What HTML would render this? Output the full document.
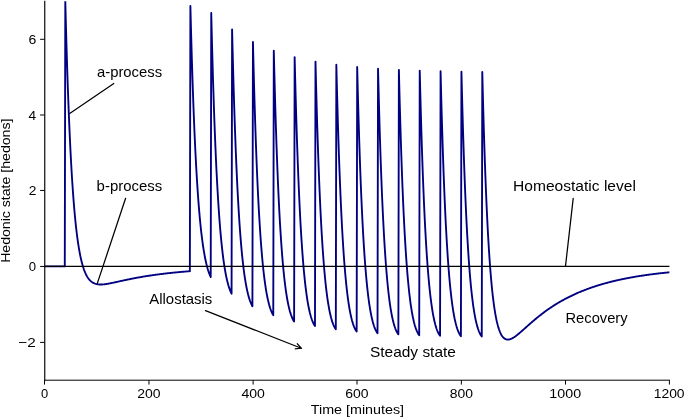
<!DOCTYPE html>
<html><head><meta charset="utf-8"><title>Opponent process</title>
<style>html,body{margin:0;padding:0;background:#fff;overflow:hidden;}svg{display:block;will-change:transform;}</style>
</head><body>
<svg width="685" height="417" viewBox="0 0 685 417">
<rect width="685" height="417" fill="#fff"/>
<defs><clipPath id="ax"><rect x="44.45" y="1.31" width="624.95" height="378.7"/></clipPath></defs>
<path d="M44.45 266.4 L44.97 266.4 L45.49 266.4 L46.01 266.4 L46.53 266.4 L47.06 266.4 L47.58 266.4 L48.1 266.4 L48.62 266.4 L49.14 266.4 L49.66 266.4 L50.18 266.4 L50.7 266.4 L51.23 266.4 L51.75 266.4 L52.27 266.4 L52.79 266.4 L53.31 266.4 L53.83 266.4 L54.35 266.4 L54.87 266.4 L55.4 266.4 L55.92 266.4 L56.44 266.4 L56.96 266.4 L57.48 266.4 L58 266.4 L58.52 266.4 L59.04 266.4 L59.57 266.4 L60.09 266.4 L60.61 266.4 L61.13 266.4 L61.65 266.4 L62.17 266.4 L62.69 266.4 L63.21 266.4 L63.74 266.4 L64.26 266.4 L64.78 266.4 L65.3 1.22 L65.82 21.55 L66.34 40.47 L66.86 58.07 L67.38 74.46 L67.91 89.7 L68.43 103.89 L68.95 117.09 L69.47 129.36 L69.99 140.79 L70.51 151.41 L71.03 161.29 L71.55 170.47 L72.07 179.02 L72.6 186.96 L73.12 194.34 L73.64 201.2 L74.16 207.57 L74.68 213.49 L75.2 219 L75.72 224.1 L76.24 228.85 L76.77 233.25 L77.29 237.34 L77.81 241.13 L78.33 244.65 L78.85 247.91 L79.37 250.94 L79.89 253.74 L80.41 256.34 L80.94 258.74 L81.46 260.97 L81.98 263.02 L82.5 264.93 L83.02 266.69 L83.54 268.31 L84.06 269.81 L84.58 271.19 L85.11 272.47 L85.63 273.64 L86.15 274.72 L86.67 275.72 L87.19 276.63 L87.71 277.47 L88.23 278.23 L88.75 278.93 L89.28 279.57 L89.8 280.16 L90.32 280.69 L90.84 281.17 L91.36 281.61 L91.88 282 L92.4 282.36 L92.92 282.68 L93.45 282.96 L93.97 283.22 L94.49 283.44 L95.01 283.64 L95.53 283.81 L96.05 283.96 L96.57 284.09 L97.09 284.2 L97.62 284.29 L98.14 284.36 L98.66 284.42 L99.18 284.46 L99.7 284.49 L100.22 284.5 L100.74 284.5 L101.26 284.5 L101.78 284.48 L102.31 284.45 L102.83 284.42 L103.35 284.38 L103.87 284.33 L104.39 284.27 L104.91 284.21 L105.43 284.14 L105.95 284.07 L106.48 283.99 L107 283.91 L107.52 283.82 L108.04 283.73 L108.56 283.64 L109.08 283.54 L109.6 283.44 L110.12 283.34 L110.65 283.24 L111.17 283.14 L111.69 283.03 L112.21 282.92 L112.73 282.81 L113.25 282.7 L113.77 282.59 L114.29 282.48 L114.82 282.36 L115.34 282.25 L115.86 282.14 L116.38 282.02 L116.9 281.91 L117.42 281.79 L117.94 281.68 L118.46 281.56 L118.99 281.44 L119.51 281.33 L120.03 281.21 L120.55 281.1 L121.07 280.98 L121.59 280.87 L122.11 280.75 L122.63 280.64 L123.16 280.53 L123.68 280.41 L124.2 280.3 L124.72 280.19 L125.24 280.08 L125.76 279.97 L126.28 279.86 L126.8 279.75 L127.32 279.64 L127.85 279.53 L128.37 279.42 L128.89 279.32 L129.41 279.21 L129.93 279.1 L130.45 279 L130.97 278.89 L131.49 278.79 L132.02 278.69 L132.54 278.59 L133.06 278.48 L133.58 278.38 L134.1 278.28 L134.62 278.18 L135.14 278.09 L135.66 277.99 L136.19 277.89 L136.71 277.79 L137.23 277.7 L137.75 277.6 L138.27 277.51 L138.79 277.42 L139.31 277.32 L139.83 277.23 L140.36 277.14 L140.88 277.05 L141.4 276.96 L141.92 276.87 L142.44 276.78 L142.96 276.69 L143.48 276.61 L144 276.52 L144.53 276.44 L145.05 276.35 L145.57 276.27 L146.09 276.18 L146.61 276.1 L147.13 276.02 L147.65 275.94 L148.17 275.86 L148.7 275.78 L149.22 275.7 L149.74 275.62 L150.26 275.54 L150.78 275.46 L151.3 275.39 L151.82 275.31 L152.34 275.23 L152.87 275.16 L153.39 275.09 L153.91 275.01 L154.43 274.94 L154.95 274.87 L155.47 274.79 L155.99 274.72 L156.51 274.65 L157.03 274.58 L157.56 274.51 L158.08 274.44 L158.6 274.38 L159.12 274.31 L159.64 274.24 L160.16 274.18 L160.68 274.11 L161.2 274.04 L161.73 273.98 L162.25 273.91 L162.77 273.85 L163.29 273.79 L163.81 273.73 L164.33 273.66 L164.85 273.6 L165.37 273.54 L165.9 273.48 L166.42 273.42 L166.94 273.36 L167.46 273.3 L167.98 273.24 L168.5 273.18 L169.02 273.13 L169.54 273.07 L170.07 273.01 L170.59 272.96 L171.11 272.9 L171.63 272.85 L172.15 272.79 L172.67 272.74 L173.19 272.68 L173.71 272.63 L174.24 272.58 L174.76 272.52 L175.28 272.47 L175.8 272.42 L176.32 272.37 L176.84 272.32 L177.36 272.27 L177.88 272.22 L178.41 272.17 L178.93 272.12 L179.45 272.07 L179.97 272.02 L180.49 271.98 L181.01 271.93 L181.53 271.88 L182.05 271.84 L182.57 271.79 L183.1 271.74 L183.62 271.7 L184.14 271.65 L184.66 271.61 L185.18 271.56 L185.7 271.52 L186.22 271.48 L186.74 271.43 L187.27 271.39 L187.79 271.35 L188.31 271.31 L188.83 271.27 L189.35 271.22 L189.87 271.18 L190.39 5.97 L190.91 26.25 L191.44 45.13 L191.96 62.7 L192.48 79.04 L193 94.25 L193.52 108.4 L194.04 121.56 L194.56 133.79 L195.08 145.18 L195.61 155.76 L196.13 165.61 L196.65 174.76 L197.17 183.26 L197.69 191.17 L198.21 198.51 L198.73 205.34 L199.25 211.67 L199.78 217.56 L200.3 223.03 L200.82 228.1 L201.34 232.81 L201.86 237.19 L202.38 241.24 L202.9 245 L203.42 248.48 L203.95 251.71 L204.47 254.71 L204.99 257.48 L205.51 260.04 L206.03 262.41 L206.55 264.61 L207.07 266.63 L207.59 268.51 L208.11 270.24 L208.64 271.83 L209.16 273.3 L209.68 274.65 L210.2 275.9 L210.72 277.04 L211.24 12.92 L211.76 34.21 L212.28 54.01 L212.81 72.43 L213.33 89.55 L213.85 105.47 L214.37 120.27 L214.89 134.02 L215.41 146.8 L215.93 158.68 L216.45 169.71 L216.98 179.96 L217.5 189.48 L218.02 198.31 L218.54 206.51 L219.06 214.12 L219.58 221.18 L220.1 227.73 L220.62 233.8 L221.15 239.43 L221.67 244.64 L222.19 249.47 L222.71 253.94 L223.23 258.07 L223.75 261.9 L224.27 265.43 L224.79 268.7 L225.32 271.72 L225.84 274.5 L226.36 277.07 L226.88 279.43 L227.4 281.61 L227.92 283.61 L228.44 285.45 L228.96 287.14 L229.49 288.68 L230.01 290.1 L230.53 291.39 L231.05 292.57 L231.57 293.65 L232.09 29.45 L232.61 50.67 L233.13 70.39 L233.66 88.72 L234.18 105.75 L234.7 121.58 L235.22 136.28 L235.74 149.94 L236.26 162.63 L236.78 174.41 L237.3 185.34 L237.82 195.48 L238.35 204.9 L238.87 213.63 L239.39 221.72 L239.91 229.23 L240.43 236.18 L240.95 242.62 L241.47 248.59 L241.99 254.1 L242.52 259.21 L243.04 263.93 L243.56 268.29 L244.08 272.32 L244.6 276.03 L245.12 279.46 L245.64 282.62 L246.16 285.53 L246.69 288.2 L247.21 290.66 L247.73 292.92 L248.25 294.99 L248.77 296.88 L249.29 298.62 L249.81 300.2 L250.33 301.64 L250.86 302.95 L251.38 304.14 L251.9 305.22 L252.42 306.19 L252.94 41.89 L253.46 63 L253.98 82.62 L254.5 100.85 L255.03 117.78 L255.55 133.51 L256.07 148.12 L256.59 161.68 L257.11 174.27 L257.63 185.95 L258.15 196.79 L258.67 206.84 L259.2 216.16 L259.72 224.79 L260.24 232.79 L260.76 240.21 L261.28 247.07 L261.8 253.42 L262.32 259.29 L262.84 264.72 L263.36 269.73 L263.89 274.36 L264.41 278.64 L264.93 282.58 L265.45 286.21 L265.97 289.55 L266.49 292.62 L267.01 295.45 L267.53 298.04 L268.06 300.41 L268.58 302.59 L269.1 304.58 L269.62 306.39 L270.14 308.04 L270.66 309.55 L271.18 310.91 L271.7 312.14 L272.23 313.25 L272.75 314.25 L273.27 315.15 L273.79 50.77 L274.31 71.81 L274.83 91.35 L275.35 109.51 L275.87 126.37 L276.4 142.03 L276.92 156.56 L277.44 170.05 L277.96 182.57 L278.48 194.18 L279 204.95 L279.52 214.93 L280.04 224.18 L280.57 232.75 L281.09 240.68 L281.61 248.03 L282.13 254.82 L282.65 261.1 L283.17 266.91 L283.69 272.28 L284.21 277.23 L284.74 281.79 L285.26 286 L285.78 289.88 L286.3 293.45 L286.82 296.73 L287.34 299.74 L287.86 302.51 L288.38 305.04 L288.91 307.36 L289.43 309.47 L289.95 311.4 L290.47 313.16 L290.99 314.75 L291.51 316.2 L292.03 317.5 L292.55 318.68 L293.07 319.74 L293.6 320.68 L294.12 321.52 L294.64 57.09 L295.16 78.08 L295.68 97.57 L296.2 115.67 L296.72 132.48 L297.24 148.08 L297.77 162.57 L298.29 176.01 L298.81 188.47 L299.33 200.03 L299.85 210.75 L300.37 220.68 L300.89 229.88 L301.41 238.4 L301.94 246.29 L302.46 253.59 L302.98 260.33 L303.5 266.57 L304.02 272.33 L304.54 277.65 L305.06 282.56 L305.58 287.08 L306.11 291.24 L306.63 295.08 L307.15 298.6 L307.67 301.84 L308.19 304.81 L308.71 307.53 L309.23 310.02 L309.75 312.29 L310.28 314.36 L310.8 316.25 L311.32 317.97 L311.84 319.52 L312.36 320.93 L312.88 322.19 L313.4 323.33 L313.92 324.35 L314.45 325.25 L314.97 326.06 L315.49 61.59 L316.01 82.53 L316.53 101.98 L317.05 120.05 L317.57 136.82 L318.09 152.39 L318.61 166.84 L319.14 180.24 L319.66 192.67 L320.18 204.19 L320.7 214.88 L321.22 224.77 L321.74 233.94 L322.26 242.43 L322.78 250.28 L323.31 257.54 L323.83 264.26 L324.35 270.46 L324.87 276.19 L325.39 281.47 L325.91 286.35 L326.43 290.84 L326.95 294.97 L327.48 298.77 L328 302.26 L328.52 305.47 L329.04 308.41 L329.56 311.1 L330.08 313.56 L330.6 315.8 L331.12 317.84 L331.65 319.7 L332.17 321.39 L332.69 322.91 L333.21 324.29 L333.73 325.53 L334.25 326.64 L334.77 327.63 L335.29 328.5 L335.82 329.28 L336.34 64.78 L336.86 85.7 L337.38 105.13 L337.9 123.16 L338.42 139.91 L338.94 155.45 L339.46 169.87 L339.99 183.25 L340.51 195.65 L341.03 207.15 L341.55 217.81 L342.07 227.68 L342.59 236.82 L343.11 245.29 L343.63 253.11 L344.15 260.35 L344.68 267.04 L345.2 273.22 L345.72 278.93 L346.24 284.19 L346.76 289.04 L347.28 293.51 L347.8 297.62 L348.32 301.4 L348.85 304.87 L349.37 308.05 L349.89 310.97 L350.41 313.64 L350.93 316.07 L351.45 318.3 L351.97 320.32 L352.49 322.16 L353.02 323.82 L353.54 325.33 L354.06 326.68 L354.58 327.9 L355.1 328.99 L355.62 329.96 L356.14 330.81 L356.66 331.57 L357.19 67.06 L357.71 87.95 L358.23 107.36 L358.75 125.38 L359.27 142.11 L359.79 157.63 L360.31 172.03 L360.83 185.39 L361.36 197.78 L361.88 209.26 L362.4 219.9 L362.92 229.75 L363.44 238.87 L363.96 247.32 L364.48 255.13 L365 262.35 L365.53 269.03 L366.05 275.19 L366.57 280.88 L367.09 286.12 L367.61 290.96 L368.13 295.41 L368.65 299.5 L369.17 303.26 L369.7 306.72 L370.22 309.89 L370.74 312.79 L371.26 315.44 L371.78 317.86 L372.3 320.07 L372.82 322.08 L373.34 323.9 L373.86 325.55 L374.39 327.04 L374.91 328.38 L375.43 329.58 L375.95 330.66 L376.47 331.61 L376.99 332.46 L377.51 333.2 L378.03 68.67 L378.56 89.55 L379.08 108.95 L379.6 126.95 L380.12 143.67 L380.64 159.18 L381.16 173.57 L381.68 186.91 L382.2 199.28 L382.73 210.75 L383.25 221.38 L383.77 231.22 L384.29 240.33 L384.81 248.77 L385.33 256.56 L385.85 263.77 L386.37 270.44 L386.9 276.59 L387.42 282.26 L387.94 287.5 L388.46 292.32 L388.98 296.76 L389.5 300.84 L390.02 304.59 L390.54 308.04 L391.07 311.19 L391.59 314.08 L392.11 316.72 L392.63 319.14 L393.15 321.33 L393.67 323.33 L394.19 325.14 L394.71 326.78 L395.24 328.26 L395.76 329.59 L396.28 330.78 L396.8 331.85 L397.32 332.79 L397.84 333.63 L398.36 334.36 L398.88 69.82 L399.4 90.69 L399.93 110.08 L400.45 128.07 L400.97 144.78 L401.49 160.28 L402.01 174.66 L402.53 187.99 L403.05 200.36 L403.57 211.82 L404.1 222.43 L404.62 232.27 L405.14 241.37 L405.66 249.79 L406.18 257.58 L406.7 264.78 L407.22 271.44 L407.74 277.58 L408.27 283.25 L408.79 288.47 L409.31 293.29 L409.83 297.72 L410.35 301.79 L410.87 305.54 L411.39 308.97 L411.91 312.12 L412.44 315 L412.96 317.64 L413.48 320.04 L414 322.23 L414.52 324.22 L415.04 326.02 L415.56 327.65 L416.08 329.13 L416.61 330.45 L417.13 331.64 L417.65 332.69 L418.17 333.63 L418.69 334.46 L419.21 335.18 L419.73 70.64 L420.25 91.5 L420.78 110.88 L421.3 128.87 L421.82 145.57 L422.34 161.06 L422.86 175.43 L423.38 188.76 L423.9 201.12 L424.42 212.57 L424.94 223.18 L425.47 233.01 L425.99 242.11 L426.51 250.52 L427.03 258.31 L427.55 265.5 L428.07 272.15 L428.59 278.29 L429.11 283.95 L429.64 289.17 L430.16 293.98 L430.68 298.4 L431.2 302.47 L431.72 306.21 L432.24 309.64 L432.76 312.78 L433.28 315.66 L433.81 318.29 L434.33 320.68 L434.85 322.87 L435.37 324.85 L435.89 326.65 L436.41 328.28 L436.93 329.74 L437.45 331.06 L437.98 332.24 L438.5 333.29 L439.02 334.23 L439.54 335.05 L440.06 335.77 L440.58 71.22 L441.1 92.08 L441.62 111.45 L442.15 129.44 L442.67 146.13 L443.19 161.62 L443.71 175.99 L444.23 189.31 L444.75 201.66 L445.27 213.11 L445.79 223.72 L446.32 233.54 L446.84 242.63 L447.36 251.04 L447.88 258.82 L448.4 266.01 L448.92 272.66 L449.44 278.79 L449.96 284.45 L450.49 289.66 L451.01 294.47 L451.53 298.89 L452.05 302.95 L452.57 306.69 L453.09 310.11 L453.61 313.25 L454.13 316.12 L454.65 318.75 L455.18 321.14 L455.7 323.32 L456.22 325.3 L456.74 327.1 L457.26 328.72 L457.78 330.18 L458.3 331.5 L458.82 332.67 L459.35 333.72 L459.87 334.65 L460.39 335.47 L460.91 336.18 L461.43 71.63 L461.95 92.49 L462.47 111.86 L462.99 129.84 L463.52 146.53 L464.04 162.01 L464.56 176.38 L465.08 189.7 L465.6 202.05 L466.12 213.49 L466.64 224.1 L467.16 233.92 L467.69 243.01 L468.21 251.41 L468.73 259.19 L469.25 266.38 L469.77 273.02 L470.29 279.15 L470.81 284.8 L471.33 290.01 L471.86 294.81 L472.38 299.23 L472.9 303.29 L473.42 307.02 L473.94 310.45 L474.46 313.58 L474.98 316.45 L475.5 319.08 L476.03 321.47 L476.55 323.64 L477.07 325.62 L477.59 327.41 L478.11 329.03 L478.63 330.49 L479.15 331.81 L479.67 332.98 L480.19 334.02 L480.72 334.95 L481.24 335.77 L481.76 336.48 L482.28 71.92 L482.8 92.78 L483.32 112.15 L483.84 130.12 L484.36 146.81 L484.89 162.29 L485.41 176.66 L485.93 189.98 L486.45 202.32 L486.97 213.77 L487.49 224.37 L488.01 234.18 L488.53 243.27 L489.06 251.68 L489.58 259.45 L490.1 266.64 L490.62 273.27 L491.14 279.4 L491.66 285.05 L492.18 290.26 L492.7 295.06 L493.23 299.48 L493.75 303.54 L494.27 307.27 L494.79 310.69 L495.31 313.82 L495.83 316.69 L496.35 319.31 L496.87 321.7 L497.4 323.87 L497.92 325.85 L498.44 327.64 L498.96 329.26 L499.48 330.72 L500 332.02 L500.52 333.2 L501.04 334.24 L501.57 335.17 L502.09 335.98 L502.61 336.69 L503.13 337.31 L503.65 337.84 L504.17 338.28 L504.69 338.65 L505.21 338.95 L505.74 339.19 L506.26 339.37 L506.78 339.49 L507.3 339.55 L507.82 339.57 L508.34 339.55 L508.86 339.49 L509.38 339.39 L509.9 339.25 L510.43 339.08 L510.95 338.88 L511.47 338.66 L511.99 338.41 L512.51 338.14 L513.03 337.84 L513.55 337.53 L514.07 337.2 L514.6 336.86 L515.12 336.5 L515.64 336.12 L516.16 335.74 L516.68 335.34 L517.2 334.94 L517.72 334.52 L518.24 334.1 L518.77 333.67 L519.29 333.23 L519.81 332.79 L520.33 332.35 L520.85 331.9 L521.37 331.44 L521.89 330.98 L522.41 330.52 L522.94 330.06 L523.46 329.6 L523.98 329.13 L524.5 328.67 L525.02 328.2 L525.54 327.73 L526.06 327.27 L526.58 326.8 L527.11 326.33 L527.63 325.87 L528.15 325.4 L528.67 324.94 L529.19 324.48 L529.71 324.02 L530.23 323.56 L530.75 323.1 L531.28 322.65 L531.8 322.2 L532.32 321.75 L532.84 321.3 L533.36 320.85 L533.88 320.41 L534.4 319.97 L534.92 319.53 L535.44 319.09 L535.97 318.66 L536.49 318.23 L537.01 317.8 L537.53 317.38 L538.05 316.95 L538.57 316.53 L539.09 316.12 L539.61 315.7 L540.14 315.29 L540.66 314.89 L541.18 314.48 L541.7 314.08 L542.22 313.68 L542.74 313.29 L543.26 312.89 L543.78 312.5 L544.31 312.12 L544.83 311.73 L545.35 311.35 L545.87 310.97 L546.39 310.6 L546.91 310.23 L547.43 309.86 L547.95 309.49 L548.48 309.13 L549 308.77 L549.52 308.41 L550.04 308.06 L550.56 307.7 L551.08 307.36 L551.6 307.01 L552.12 306.67 L552.65 306.33 L553.17 305.99 L553.69 305.65 L554.21 305.32 L554.73 304.99 L555.25 304.67 L555.77 304.34 L556.29 304.02 L556.82 303.7 L557.34 303.39 L557.86 303.07 L558.38 302.76 L558.9 302.45 L559.42 302.15 L559.94 301.85 L560.46 301.55 L560.98 301.25 L561.51 300.95 L562.03 300.66 L562.55 300.37 L563.07 300.08 L563.59 299.8 L564.11 299.51 L564.63 299.23 L565.15 298.95 L565.68 298.68 L566.2 298.4 L566.72 298.13 L567.24 297.86 L567.76 297.6 L568.28 297.33 L568.8 297.07 L569.32 296.81 L569.85 296.55 L570.37 296.29 L570.89 296.04 L571.41 295.79 L571.93 295.54 L572.45 295.29 L572.97 295.05 L573.49 294.8 L574.02 294.56 L574.54 294.32 L575.06 294.09 L575.58 293.85 L576.1 293.62 L576.62 293.39 L577.14 293.16 L577.66 292.93 L578.19 292.71 L578.71 292.48 L579.23 292.26 L579.75 292.04 L580.27 291.83 L580.79 291.61 L581.31 291.4 L581.83 291.18 L582.36 290.97 L582.88 290.76 L583.4 290.56 L583.92 290.35 L584.44 290.15 L584.96 289.95 L585.48 289.75 L586 289.55 L586.53 289.35 L587.05 289.16 L587.57 288.97 L588.09 288.77 L588.61 288.58 L589.13 288.4 L589.65 288.21 L590.17 288.02 L590.69 287.84 L591.22 287.66 L591.74 287.48 L592.26 287.3 L592.78 287.12 L593.3 286.95 L593.82 286.77 L594.34 286.6 L594.86 286.43 L595.39 286.26 L595.91 286.09 L596.43 285.92 L596.95 285.76 L597.47 285.59 L597.99 285.43 L598.51 285.27 L599.03 285.11 L599.56 284.95 L600.08 284.79 L600.6 284.63 L601.12 284.48 L601.64 284.33 L602.16 284.17 L602.68 284.02 L603.2 283.87 L603.73 283.72 L604.25 283.58 L604.77 283.43 L605.29 283.29 L605.81 283.14 L606.33 283 L606.85 282.86 L607.37 282.72 L607.9 282.58 L608.42 282.45 L608.94 282.31 L609.46 282.17 L609.98 282.04 L610.5 281.91 L611.02 281.78 L611.54 281.65 L612.07 281.52 L612.59 281.39 L613.11 281.26 L613.63 281.13 L614.15 281.01 L614.67 280.89 L615.19 280.76 L615.71 280.64 L616.23 280.52 L616.76 280.4 L617.28 280.28 L617.8 280.16 L618.32 280.05 L618.84 279.93 L619.36 279.82 L619.88 279.7 L620.4 279.59 L620.93 279.48 L621.45 279.37 L621.97 279.26 L622.49 279.15 L623.01 279.04 L623.53 278.93 L624.05 278.82 L624.57 278.72 L625.1 278.61 L625.62 278.51 L626.14 278.41 L626.66 278.31 L627.18 278.21 L627.7 278.1 L628.22 278.01 L628.74 277.91 L629.27 277.81 L629.79 277.71 L630.31 277.62 L630.83 277.52 L631.35 277.43 L631.87 277.33 L632.39 277.24 L632.91 277.15 L633.44 277.06 L633.96 276.97 L634.48 276.88 L635 276.79 L635.52 276.7 L636.04 276.61 L636.56 276.53 L637.08 276.44 L637.61 276.35 L638.13 276.27 L638.65 276.19 L639.17 276.1 L639.69 276.02 L640.21 275.94 L640.73 275.86 L641.25 275.78 L641.78 275.7 L642.3 275.62 L642.82 275.54 L643.34 275.46 L643.86 275.39 L644.38 275.31 L644.9 275.23 L645.42 275.16 L645.94 275.09 L646.47 275.01 L646.99 274.94 L647.51 274.87 L648.03 274.79 L648.55 274.72 L649.07 274.65 L649.59 274.58 L650.11 274.51 L650.64 274.44 L651.16 274.38 L651.68 274.31 L652.2 274.24 L652.72 274.17 L653.24 274.11 L653.76 274.04 L654.28 273.98 L654.81 273.91 L655.33 273.85 L655.85 273.79 L656.37 273.72 L656.89 273.66 L657.41 273.6 L657.93 273.54 L658.45 273.48 L658.98 273.42 L659.5 273.36 L660.02 273.3 L660.54 273.24 L661.06 273.18 L661.58 273.13 L662.1 273.07 L662.62 273.01 L663.15 272.96 L663.67 272.9 L664.19 272.84 L664.71 272.79 L665.23 272.74 L665.75 272.68 L666.27 272.63 L666.79 272.58 L667.32 272.52 L667.84 272.47 L668.36 272.42 L668.88 272.37 L669.4 272.32" fill="none" stroke="#000080" stroke-width="1.875" stroke-linejoin="round" stroke-linecap="square" clip-path="url(#ax)"/>
<line x1="44.45" y1="266.4" x2="669.4" y2="266.4" stroke="#000" stroke-width="1.25" stroke-linecap="square" clip-path="url(#ax)"/>
<line x1="113.8" y1="83.5" x2="69.7" y2="113.4" stroke="#000" stroke-width="1.25" stroke-linecap="round"/>
<line x1="125.6" y1="198.3" x2="97.3" y2="283.4" stroke="#000" stroke-width="1.25" stroke-linecap="round"/>
<line x1="573.2" y1="198.4" x2="565.5" y2="266.1" stroke="#000" stroke-width="1.25" stroke-linecap="round"/>
<line x1="205.5" y1="310.6" x2="301.25" y2="348.25" stroke="#000" stroke-width="1.25" stroke-linecap="round"/>
<path d="M294.84 348.84 L301.25 348.25 L296.96 343.45" fill="none" stroke="#000" stroke-width="1.25" stroke-linejoin="round" stroke-linecap="butt"/>
<line x1="44.75" y1="1.31" x2="44.75" y2="380.2" stroke="#000" stroke-width="1.15" stroke-linecap="square"/>
<line x1="44.5" y1="380.2" x2="669.4" y2="380.2" stroke="#000" stroke-width="1.0" stroke-linecap="square"/>
<line x1="40.12" y1="342.38" x2="44.5" y2="342.38" stroke="#000" stroke-width="1.0"/>
<line x1="40.12" y1="266.45" x2="44.5" y2="266.45" stroke="#000" stroke-width="1.0"/>
<line x1="40.12" y1="190.45" x2="44.5" y2="190.45" stroke="#000" stroke-width="1.0"/>
<line x1="40.12" y1="115" x2="44.5" y2="115" stroke="#000" stroke-width="1.0"/>
<line x1="40.12" y1="39.3" x2="44.5" y2="39.3" stroke="#000" stroke-width="1.0"/>
<line x1="44.5" y1="380.2" x2="44.5" y2="384.57" stroke="#000" stroke-width="1.0"/>
<line x1="148.97" y1="380.2" x2="148.97" y2="384.57" stroke="#000" stroke-width="1.0"/>
<line x1="253.1" y1="380.2" x2="253.1" y2="384.57" stroke="#000" stroke-width="1.0"/>
<line x1="357" y1="380.2" x2="357" y2="384.57" stroke="#000" stroke-width="1.0"/>
<line x1="461.35" y1="380.2" x2="461.35" y2="384.57" stroke="#000" stroke-width="1.0"/>
<line x1="565.5" y1="380.2" x2="565.5" y2="384.57" stroke="#000" stroke-width="1.0"/>
<line x1="669.4" y1="380.2" x2="669.4" y2="384.57" stroke="#000" stroke-width="1.0"/>
<g font-family="Liberation Sans, sans-serif" fill="#000">
<text x="40.89" y="397.7" font-size="13.1" textLength="7.21" lengthAdjust="spacingAndGlyphs">0</text>
<text x="137.22" y="397.7" font-size="13.1" textLength="23.35" lengthAdjust="spacingAndGlyphs">200</text>
<text x="241.48" y="397.7" font-size="13.1" textLength="23.47" lengthAdjust="spacingAndGlyphs">400</text>
<text x="345.24" y="397.7" font-size="13.1" textLength="23.36" lengthAdjust="spacingAndGlyphs">600</text>
<text x="449.69" y="397.7" font-size="13.1" textLength="23.25" lengthAdjust="spacingAndGlyphs">800</text>
<text x="549.36" y="397.7" font-size="13.1" textLength="31.74" lengthAdjust="spacingAndGlyphs">1000</text>
<text x="653.69" y="397.7" font-size="13.1" textLength="30.9" lengthAdjust="spacingAndGlyphs">1200</text>
<text x="18.25" y="346.74" font-size="13.1" textLength="17.42" lengthAdjust="spacingAndGlyphs">−2</text>
<text x="28.89" y="271" font-size="13.1" textLength="7.33" lengthAdjust="spacingAndGlyphs">0</text>
<text x="28.7" y="195.26" font-size="13.1" textLength="7.69" lengthAdjust="spacingAndGlyphs">2</text>
<text x="28.49" y="119.52" font-size="13.1" textLength="7.62" lengthAdjust="spacingAndGlyphs">4</text>
<text x="28.48" y="43.78" font-size="13.1" textLength="7.83" lengthAdjust="spacingAndGlyphs">6</text>
<text x="310.78" y="414" font-size="13.25" textLength="93.33" lengthAdjust="spacingAndGlyphs">Time [minutes]</text>
<g transform="translate(9.8 0) rotate(-90)"><text x="-262.86" y="0" font-size="13.25" textLength="144.26" lengthAdjust="spacingAndGlyphs">Hedonic state [hedons]</text></g>
<text x="96.97" y="76.8" font-size="13.9" textLength="65.17" lengthAdjust="spacingAndGlyphs">a-process</text>
<text x="96.64" y="190.7" font-size="13.9" textLength="65.5" lengthAdjust="spacingAndGlyphs">b-process</text>
<text x="513.12" y="190.9" font-size="13.9" textLength="122.82" lengthAdjust="spacingAndGlyphs">Homeostatic level</text>
<text x="149.27" y="304.4" font-size="13.9" textLength="63.07" lengthAdjust="spacingAndGlyphs">Allostasis</text>
<text x="370" y="357" font-size="13.9" textLength="85.89" lengthAdjust="spacingAndGlyphs">Steady state</text>
<text x="565.49" y="322.7" font-size="13.9" textLength="62.14" lengthAdjust="spacingAndGlyphs">Recovery</text>
</g>
</svg>
</body></html>
